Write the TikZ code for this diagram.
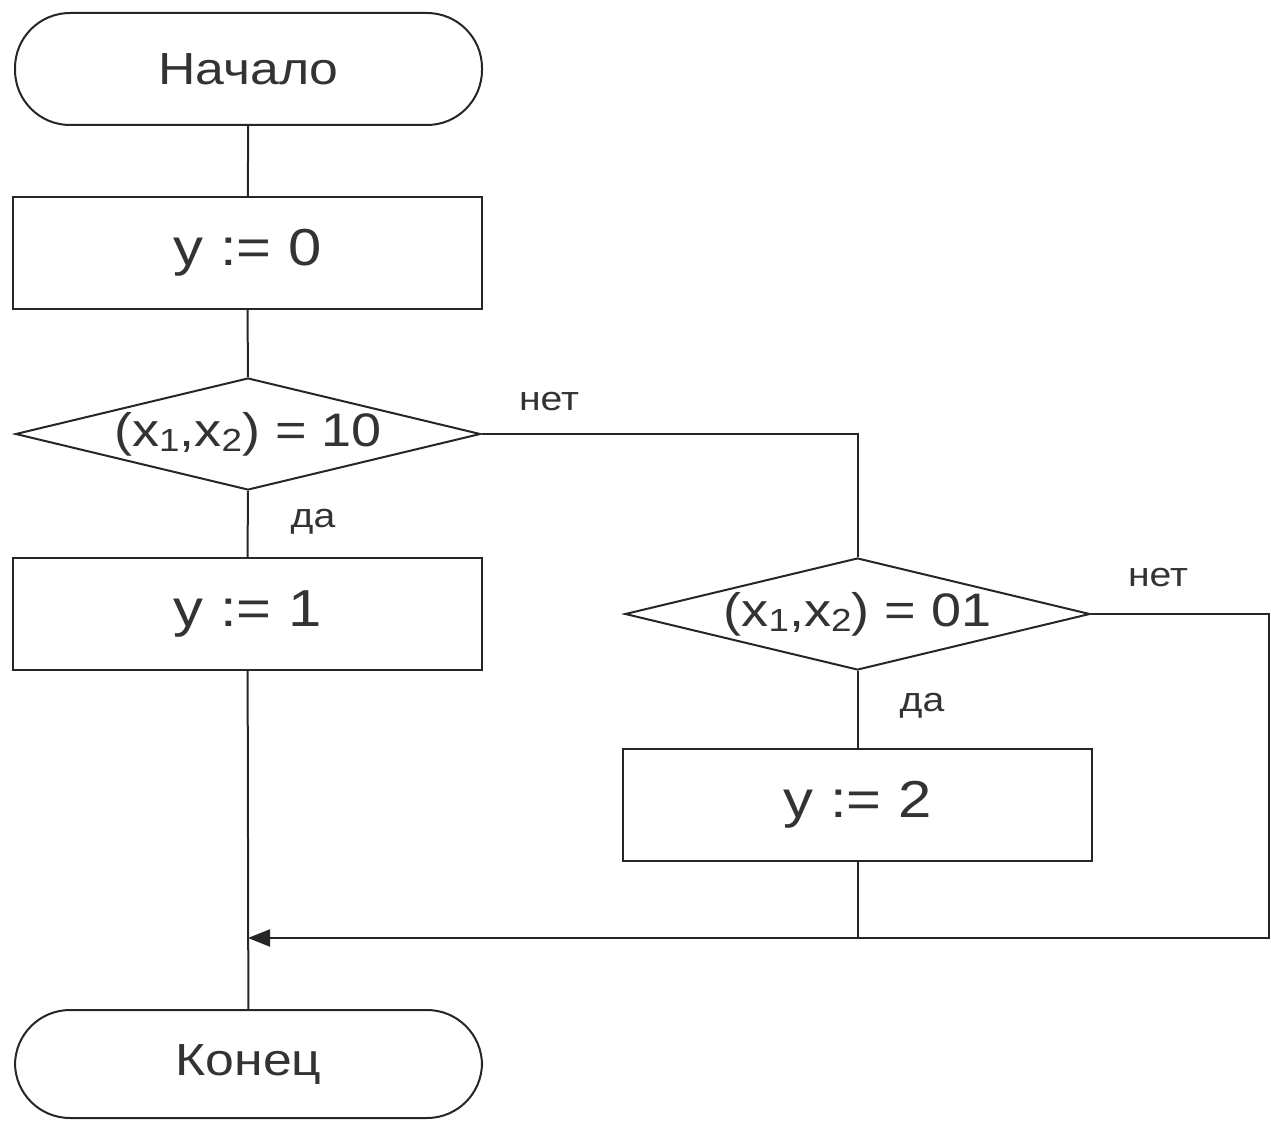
\documentclass[tikz,border=0pt]{standalone}
\usepackage{fontspec}
\setmainfont[FakeStretch=1.15]{Liberation Sans}
\usetikzlibrary{shapes.geometric,arrows.meta}
\newcommand{\lowidx}[1]{\raisebox{-0.2ex}{\scalebox{0.68}{#1}}}
\begin{document}
\begin{tikzpicture}[x=1pt,y=-1pt,line width=2pt,draw=black!85,
    terminal/.style={draw,rectangle,rounded corners=55pt,minimum width=467pt,minimum height=112pt,
      inner sep=0pt,text=black!80,font=\fontsize{45}{45}\selectfont},
    action/.style={draw,rectangle,minimum width=469pt,minimum height=112pt,
      inner sep=0pt,text=black!80,font=\fontsize{52}{52}\selectfont},
    test/.style={draw,diamond,aspect=4.15,minimum width=465pt,minimum height=112pt,
      inner sep=0pt,text=black!80,font=\fontsize{47}{47}\selectfont},
    branch/.style={text=black!80,inner sep=0pt,font=\fontsize{34}{34}\selectfont}]
    \useasboundingbox (0,0) rectangle (1271,1121);
    % blocks
    \node[terminal] (start) at (248.5,69) {Начало};
    \node[action] (set0) at (247.5,253) {y := 0};
    \node[test] (cond1) at (248,434) {(x\lowidx{1},x\lowidx{2}) = 10};
    \node[action] (set1) at (247.5,614) {y := 1};
    \node[test] (cond2) at (857.5,614) {(x\lowidx{1},x\lowidx{2}) = 01};
    \node[action] (set2) at (857.5,805) {y := 2};
    \node[terminal,minimum height=108pt] (end) at (248.5,1064) {Конец};
    % branch labels
    \node[branch] (no1) at (549,402) {нет};
    \node[branch] (yes1) at (313,522) {да};
    \node[branch] (no2) at (1158,578) {нет};
    \node[branch] (yes2) at (922,706) {да};
    % connectors
    \coordinate (join) at (248,938);
    \coordinate (rturn) at (1269,614);
    \draw (start) -- (set0);
    \draw (set0) -- (cond1);
    \draw (cond1) -- (set1);
    \draw (cond1.east) -| (cond2.north);
    \draw (cond2) -- (set2);
    \draw (set1) -- (end);
    \draw (set2) -- (set2 |- join);
    \draw[-{Triangle[length=22pt,width=17pt]}] (cond2.east) -- (rturn) |- (join);
  \end{tikzpicture}
\end{document}
